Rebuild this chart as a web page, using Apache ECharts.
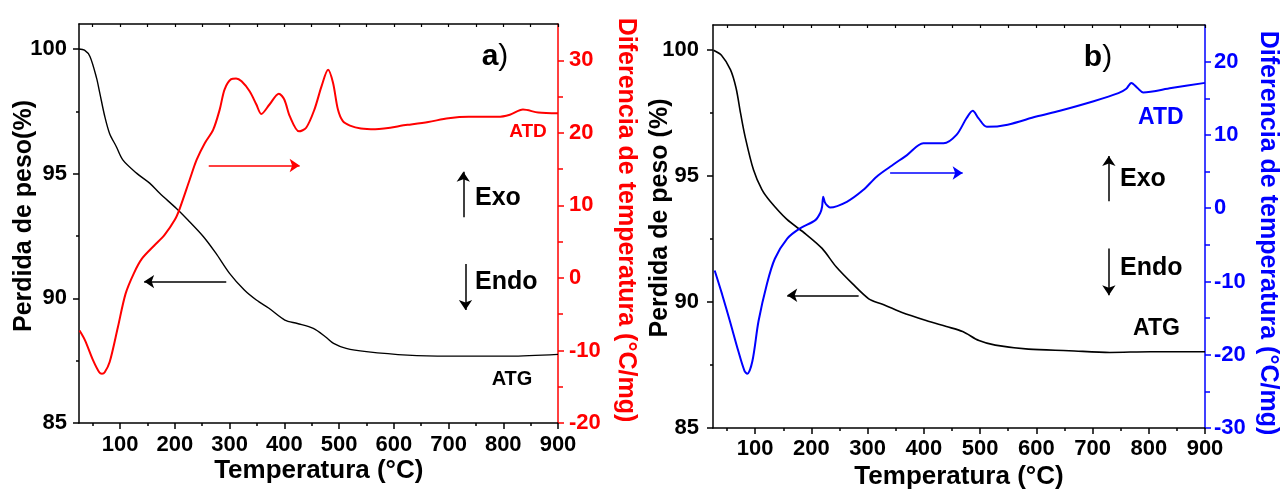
<!DOCTYPE html>
<html><head><meta charset="utf-8">
<script src="https://cdn.jsdelivr.net/npm/echarts@6/dist/echarts.min.js"></script>
<style>html,body{margin:0;padding:0;background:#fff}#c{width:1281px;height:491px}</style>
</head><body><div id="c"></div>
<script>
// ---------- DATA ----------
// Panel a) ATG (weight loss %)
const tempAtgA = [25, 35, 45, 57, 63, 72, 81, 93, 105, 130, 154, 172, 203, 224, 252, 275, 300, 327, 349, 372, 401, 424, 453, 475, 490, 513, 550, 625, 700, 812, 900];
const atgA     = [100, 99.95, 99.7, 98.84, 98.23, 97.3, 96.6, 96.09, 95.55, 95.02, 94.62, 94.22, 93.6, 93.14, 92.48, 91.81, 91.0, 90.33, 89.93, 89.6, 89.13, 88.99, 88.79, 88.46, 88.19, 87.99, 87.86, 87.72, 87.68, 87.68, 87.75];
// Panel a) ATD (°C/mg)
const tempAtdA = [26, 36, 51, 62, 67, 72, 81, 96, 110, 125, 140, 163, 181, 200, 209, 227, 240, 255, 270, 282, 291, 303, 312, 322, 337, 349, 358, 373, 390, 400, 410, 427, 440, 455, 468, 480, 489, 498, 507, 520, 540, 566, 625, 663, 700, 737, 790, 812, 836, 864, 900];
const atdA     = [-7.25, -8.6, -11.4, -13.0, -13.2, -13.0, -11.6, -6.8, -2.2, 0.6, 2.65, 4.5, 5.9, 8.0, 9.56, 13.5, 16.3, 18.6, 20.4, 23.2, 26.0, 27.4, 27.5, 27.1, 25.7, 23.9, 22.6, 23.9, 25.4, 24.6, 22.3, 20.2, 20.7, 23.2, 26.4, 28.7, 26.9, 23.2, 21.6, 21.0, 20.6, 20.5, 21.1, 21.5, 22.0, 22.2, 22.2, 22.5, 23.2, 22.8, 22.7];
// Panel b) ATG
const tempAtgB = [26, 40, 56, 66, 74, 82, 97, 112, 127, 156, 190, 219, 244, 273, 302, 324, 360, 404, 440, 469, 498, 527, 586, 658, 731, 803, 900];
const atgB     = [100, 99.8, 99.23, 98.5, 97.5, 96.58, 95.25, 94.46, 93.99, 93.29, 92.7, 92.13, 91.4, 90.73, 90.13, 89.93, 89.6, 89.27, 89.03, 88.83, 88.47, 88.29, 88.13, 88.07, 88.0, 88.03, 88.03];
// Panel b) ATD
const tempAtdB = [28, 41, 55, 70, 81, 86, 95, 106, 121, 135, 157, 179, 207, 216, 219, 221, 224, 229, 233, 263, 292, 316, 340, 370, 399, 435, 458, 476, 487, 497, 512, 549, 600, 642, 702, 746, 760, 769, 780, 790, 840, 900];
const atdB     = [-8.5, -11.7, -15.4, -19.5, -22.2, -22.6, -20.9, -15.4, -10.3, -6.9, -4.15, -2.8, -1.63, -0.6, 0.2, 1.56, 0.8, 0.29, 0.1, 0.87, 2.47, 4.3, 5.65, 7.25, 8.85, 8.85, 10.0, 12.3, 13.3, 12.3, 11.1, 11.4, 12.5, 13.3, 14.6, 15.7, 16.3, 17.1, 16.4, 15.8, 16.4, 17.1];

// Tick values
const xLabels   = [100, 200, 300, 400, 500, 600, 700, 800, 900];
const xMinor    = [50, 150, 250, 350, 450, 550, 650, 750, 850];
const xTop      = [50, 100, 150, 200, 250, 300, 350, 400, 450, 500, 550, 600, 650, 700, 750, 800, 850, 900];
const yLeftLabels = [85, 90, 95, 100];
const yLeftMinor  = [87.5, 92.5, 97.5];
const yRightLabelsA = [-20, -10, 0, 10, 20, 30];
const yRightMinorA  = [-15, -5, 5, 15, 25];
const yRightLabelsB = [-30, -20, -10, 0, 10, 20];
const yRightMinorB  = [-25, -15, -5, 5, 15];

// Annotation arrows (data coordinates)
const arrowsA = {
  atd:  [[262, 15.5], [428, 15.5]],
  atg:  [[294, 90.67], [144, 90.67]],
  exo:  [[727, 93.25], [727, 95.08]],
  endo: [[731, 91.38], [731, 89.53]]
};
const arrowsB = {
  atd:  [[340, 4.8], [469, 4.8]],
  atg:  [[284, 90.27], [157, 90.27]],
  exo:  [[729, 94.0], [729, 95.8]],
  endo: [[729, 92.13], [729, 90.27]]
};

// ---------- CHART ----------
const FONT = '"Liberation Sans", Arial, sans-serif';
const zip = (xs, ys) => xs.map((x, i) => [x, ys[i]]);
const chart = echarts.init(document.getElementById('c'), null, {renderer: 'canvas'});

function tickAxis(base, vals, len, color, inside) {
  return Object.assign({}, base, {
    axisLine: {show: false, onZero: false},
    axisTick: {show: true, inside: !!inside, customValues: vals, length: len, lineStyle: {color: color, width: 1.5}},
    axisLabel: {show: false}, splitLine: {show: false}
  });
}
function xAxes(gi, labelMargin) {
  const base = {gridIndex: gi, type: 'value', min: 25, max: 900, splitLine: {show: false}};
  const bottom = Object.assign({}, base, {position: 'bottom'});
  const top = Object.assign({}, base, {position: 'top'});
  return [
    Object.assign({}, bottom, {
      axisLine: {show: true, onZero: false, lineStyle: {color: '#000', width: 1.5}},
      axisTick: {show: false},
      axisLabel: {show: true, customValues: xLabels, margin: labelMargin, color: '#000', fontSize: 22, fontWeight: 'bold', fontFamily: FONT}}),
    tickAxis(bottom, xLabels, 6, '#000'),
    tickAxis(bottom, xMinor, 3, '#000'),
    Object.assign({}, top, {
      axisLine: {show: true, onZero: false, lineStyle: {color: '#000', width: 1.5}},
      axisTick: {show: true, inside: true, customValues: xTop, length: 3, lineStyle: {color: '#000', width: 1.2}},
      axisLabel: {show: false}})
  ];
}
function yAxes(gi, rLabels, rMinor, rMin, rMax, rColor, lMargin, rMargin) {
  const left = {gridIndex: gi, type: 'value', min: 85, max: 101, position: 'left', splitLine: {show: false}};
  const right = {gridIndex: gi, type: 'value', min: rMin, max: rMax, position: 'right', splitLine: {show: false}};
  return [
    Object.assign({}, left, {
      axisLine: {show: true, onZero: false, lineStyle: {color: '#000', width: 1.5}},
      axisTick: {show: false},
      axisLabel: {show: true, customValues: yLeftLabels, margin: lMargin, color: '#000', fontSize: 22, fontWeight: 'bold', fontFamily: FONT}}),
    tickAxis(left, yLeftLabels, 6, '#000'),
    tickAxis(left, yLeftMinor, 3, '#000'),
    Object.assign({}, right, {
      axisLine: {show: true, onZero: false, lineStyle: {color: rColor, width: 1.5}},
      axisTick: {show: false},
      axisLabel: {show: true, customValues: rLabels, margin: rMargin, color: rColor, fontSize: 22, fontWeight: 'bold', fontFamily: FONT}}),
    tickAxis(right, rLabels, 6, rColor),
    tickAxis(right, rMinor, 5, rColor)
  ];
}
function arrowML(color, lines) {
  return {
    silent: true, animation: false,
    symbol: ['none', 'arrow'], symbolSize: 10,
    label: {show: false},
    lineStyle: {color: color, width: 1.5, type: 'solid'},
    emphasis: {disabled: true},
    data: lines.map(l => [{coord: l[0], symbol: 'none'}, {coord: l[1], symbol: 'arrow', symbolSize: 10}])
  };
}
function txt(x, y, text, size, color) {
  return {type: 'text', x: x, y: y, silent: true,
    style: {text: text, fill: color, font: 'bold ' + size + 'px ' + FONT, align: 'left', verticalAlign: 'middle'}};
}
function ctxt(x, y, text, size, color, rot) {
  return {type: 'text', x: x, y: y, rotation: rot || 0, silent: true,
    style: {text: text, fill: color, font: 'bold ' + size + 'px ' + FONT, align: 'center', verticalAlign: 'middle'}};
}
function panelLabel(x, y, letter) {
  return {type: 'text', x: x, y: y, silent: true,
    style: {text: '{a|' + letter + '}{p|)}', align: 'center', verticalAlign: 'middle',
      rich: {a: {fontSize: 30, fontWeight: 'bold', fontFamily: FONT, fill: '#000', color: '#000'},
             p: {fontSize: 30, fontWeight: 'normal', fontFamily: FONT, fill: '#000', color: '#000'}}}};
}

// y axis index layout per grid: 0 left labels, 1 left major ticks, 2 left minor, 3 right labels, 4 right major, 5 right minor
// x axis index layout per grid: 0 bottom labels, 1 bottom major ticks, 2 bottom minor, 3 top
const option = {
  animation: false,
  backgroundColor: '#fff',
  grid: [
    {left: 79, top: 24, width: 479, height: 399, containLabel: false},
    {left: 713, top: 25, width: 492, height: 403, containLabel: false}
  ],
  xAxis: xAxes(0, 11).concat(xAxes(1, 10)),
  yAxis: yAxes(0, yRightLabelsA, yRightMinorA, -20, 35, '#ff0000', 12, 11)
    .concat(yAxes(1, yRightLabelsB, yRightMinorB, -30, 25, '#0000ff', 14, 9)),
  series: [
    {name: 'ATG a', type: 'line', xAxisIndex: 0, yAxisIndex: 0, data: zip(tempAtgA, atgA),
     showSymbol: false, smooth: 0.3, lineStyle: {color: '#000', width: 1.4}, itemStyle: {color: '#000'},
     markLine: arrowML('#000', [arrowsA.atg, arrowsA.exo, arrowsA.endo])},
    {name: 'ATD a', type: 'line', xAxisIndex: 0, yAxisIndex: 3, data: zip(tempAtdA, atdA),
     showSymbol: false, smooth: 0.3, lineStyle: {color: '#ff0000', width: 2}, itemStyle: {color: '#ff0000'},
     markLine: arrowML('#ff0000', [arrowsA.atd])},
    {name: 'ATG b', type: 'line', xAxisIndex: 4, yAxisIndex: 6, data: zip(tempAtgB, atgB),
     showSymbol: false, smooth: 0.3, lineStyle: {color: '#000', width: 1.6}, itemStyle: {color: '#000'},
     markLine: arrowML('#000', [arrowsB.atg, arrowsB.exo, arrowsB.endo])},
    {name: 'ATD b', type: 'line', xAxisIndex: 4, yAxisIndex: 9, data: zip(tempAtdB, atdB),
     showSymbol: false, smooth: 0.3, lineStyle: {color: '#0000ff', width: 2}, itemStyle: {color: '#0000ff'},
     markLine: arrowML('#0000ff', [arrowsB.atd])}
  ],
  graphic: [
    ctxt(318.8, 471, 'Temperatura (°C)', 26, '#000'),
    ctxt(24, 216, 'Perdida de peso(%)', 25, '#000', Math.PI / 2),
    ctxt(626, 220, 'Diferencia de temperatura (°C/mg)', 25, '#ff0000', -Math.PI / 2),
    ctxt(959, 477, 'Temperatura (°C)', 26, '#000'),
    ctxt(660, 218, 'Perdida de peso (%)', 25, '#000', Math.PI / 2),
    ctxt(1268, 233, 'Diferencia de temperatura (°C/mg)', 25, '#0000ff', -Math.PI / 2),
    panelLabel(495, 57, 'a'),
    ctxt(528, 132, 'ATD', 19, '#ff0000'),
    ctxt(512, 379, 'ATG', 20, '#000'),
    txt(475, 198, 'Exo', 25, '#000'),
    txt(475, 282, 'Endo', 25, '#000'),
    panelLabel(1098, 58, 'b'),
    txt(1138, 118, 'ATD', 23, '#0000ff'),
    txt(1133, 329, 'ATG', 23, '#000'),
    txt(1120, 179, 'Exo', 25, '#000'),
    txt(1120, 268, 'Endo', 25, '#000')
  ]
};
chart.setOption(option);
</script>
</body></html>
